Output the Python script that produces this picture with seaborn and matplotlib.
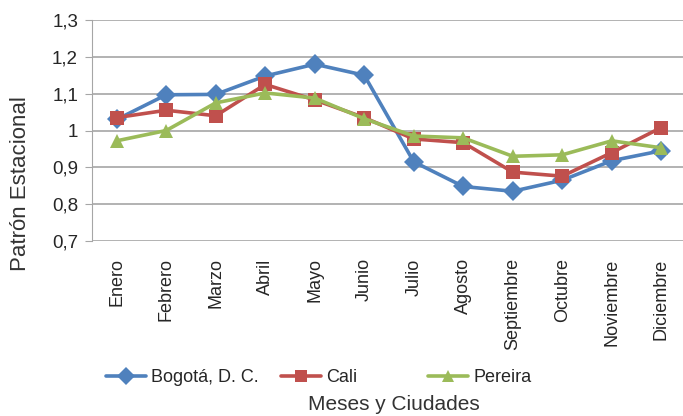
import pandas as pd
import matplotlib.pyplot as plt
import seaborn as sns

meses = ['Enero', 'Febrero', 'Marzo', 'Abril', 'Mayo', 'Junio', 'Julio',
         'Agosto', 'Septiembre', 'Octubre', 'Noviembre', 'Diciembre']
bogota = [1.03, 1.097, 1.098, 1.148, 1.18, 1.15, 0.915, 0.848, 0.835, 0.865, 0.918, 0.945]
cali = [1.035, 1.055, 1.04, 1.125, 1.083, 1.035, 0.977, 0.967, 0.887, 0.876, 0.94, 1.008]
pereira = [0.972, 1.0, 1.075, 1.102, 1.088, 1.032, 0.985, 0.98, 0.93, 0.934, 0.972, 0.953]

ciudades = ['Bogotá, D. C.', 'Cali', 'Pereira']
colores = ['#4F81BD', '#C0504D', '#9BBB59']
marcadores = ['D', 's', '^']

df = pd.DataFrame({
    'mes': meses * 3,
    'valor': bogota + cali + pereira,
    'ciudad': [c for c in ciudades for _ in meses],
})

sns.set_style('white')
plt.rcParams['font.family'] = ['Liberation Sans', 'DejaVu Sans']

fig = plt.figure(figsize=(6.83, 4.16), dpi=100)
ax = fig.add_axes([92 / 683, 1 - 241 / 416, 594 / 683, 221 / 416])

sns.lineplot(data=df, x='mes', y='valor', hue='ciudad', style='ciudad',
             palette=dict(zip(ciudades, colores)),
             markers=dict(zip(ciudades, marcadores)), dashes=False,
             linewidth=2.6, markersize=10.5, markeredgewidth=0, sort=False,
             legend=False, ax=ax)

ax.set_xlim(-0.5, 11.5)
ax.set_ylim(0.7, 1.3)
ax.set_yticks([0.7, 0.8, 0.9, 1.0, 1.1, 1.2, 1.3])
ax.set_yticklabels(['0,7', '0,8', '0,9', '1', '1,1', '1,2', '1,3'], fontsize=13.5)
ax.set_xticks(range(len(meses)))
ax.set_xticklabels(meses, rotation=90, fontsize=13)
ax.grid(axis='y', color='#a6a6a6', linewidth=1.2)
for s in ['top', 'right', 'bottom']:
    ax.spines[s].set_visible(False)
ax.spines['left'].set_color('#a6a6a6')
ax.tick_params(axis='y', left=True, length=5, color='#a6a6a6', pad=5)
ax.tick_params(axis='x', bottom=False, pad=9)
ax.set_ylabel('Patrón Estacional', fontsize=16, color='#333333')
ax.set_xlabel('')
ax.yaxis.set_label_coords((31 - 92) / 594, 1 - (184 - 20) / 221)

# leyenda: una entrada por ciudad, como en Excel
posiciones = [106, 281, 428]
for c, m, nombre, x0 in zip(colores, marcadores, ciudades, posiciones):
    h = plt.Line2D([], [], color=c, marker=m, linewidth=2.6, markersize=9,
                   markeredgewidth=0)
    fig.legend([h], [nombre], loc='center left', bbox_to_anchor=(x0 / 683, 1 - 378 / 416),
               frameon=False, fontsize=13, handlelength=2.2, handletextpad=0.3,
               borderpad=0, borderaxespad=0)
fig.text(394 / 683, 1 - 404 / 416, 'Meses y Ciudades', ha='center', va='center',
         fontsize=15, color='#333333')

fig.savefig('out.png', dpi=100)
